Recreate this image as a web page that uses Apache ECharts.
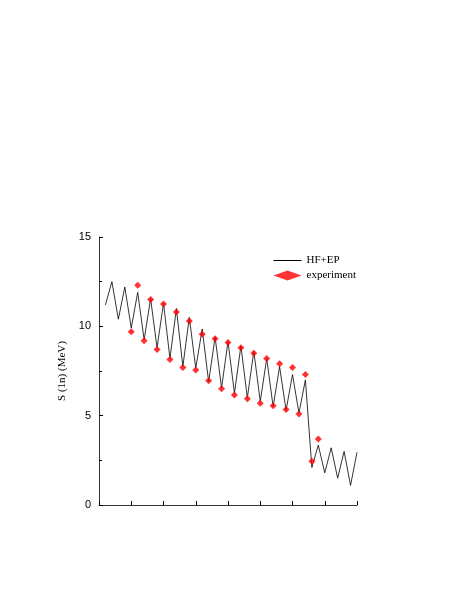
<!DOCTYPE html><html><head><meta charset="utf-8"><script src="https://cdn.jsdelivr.net/npm/echarts@6/dist/echarts.min.js"></script></head><body style="margin:0"><div id="c" style="width:457px;height:591px"></div><script>
const theoryX=[1,2,3,4,5,6,7,8,9,10,11,12,13,14,15,16,17,18,19,20,21,22,23,24,25,26,27,28,29,30,31,32,33,34,35,36,37,38,39,40];
const theoryY=[11.2,12.5,10.4,12.2,9.9,11.9,9.25,11.55,8.8,11.3,8.2,11.0,7.75,10.5,7.65,9.85,6.9,9.4,6.55,9.15,6.25,8.9,6.0,8.6,5.8,8.2,5.5,7.75,5.3,7.3,5.15,7.0,2.1,3.35,1.8,3.2,1.5,3.0,1.1,2.95];
const expX=[5,6,7,8,9,10,11,12,13,14,15,16,17,18,19,20,21,22,23,24,25,26,27,28,29,30,31,32,33,34];
const expY=[9.7,12.3,9.2,11.5,8.7,11.25,8.15,10.8,7.7,10.3,7.55,9.55,6.95,9.3,6.5,9.1,6.15,8.8,5.95,8.5,5.7,8.2,5.55,7.9,5.35,7.7,5.1,7.3,2.45,3.7];
const yTicks=[0,5,10,15];
const font='Liberation Serif';
const ch=echarts.init(document.getElementById('c'));
ch.setOption({
 animation:false,
 grid:{left:99,right:100,top:237,bottom:86},
 legend:{top:250,right:96,orient:'vertical',itemGap:4,itemWidth:28,itemHeight:10,textStyle:{fontFamily:font,fontSize:11,color:'#000'},
  data:[{name:'HF+EP',icon:'path://M0,5L28,5L28,6L0,6Z'},{name:'experiment'}]},
 xAxis:{type:'value',min:0,max:40,interval:5,axisLabel:{show:false},splitLine:{show:false},
  axisLine:{lineStyle:{color:'#000',width:0.8}},axisTick:{inside:true,length:4,lineStyle:{color:'#000'}}},
 yAxis:{type:'value',min:0,max:15,interval:5,name:'S (1n) (MeV)',nameLocation:'middle',nameGap:22,
  nameTextStyle:{fontFamily:font,fontSize:11,color:'#000'},splitLine:{show:false},
  axisLabel:{fontFamily:'Liberation Sans',fontSize:11,color:'#000',formatter:v=>yTicks.includes(v)?v:''},
  axisLine:{lineStyle:{color:'#000',width:0.8}},axisTick:{inside:true,length:4,lineStyle:{color:'#000'}},
  minorTick:{show:true,splitNumber:2,length:3,lineStyle:{color:'#000'}}},
 series:[
  {name:'HF+EP',type:'line',data:theoryX.map((x,i)=>[x,theoryY[i]]),showSymbol:false,symbol:'none',lineStyle:{color:'#000',width:0.8},itemStyle:{color:'#000'}},
  {name:'experiment',type:'scatter',data:expX.map((x,i)=>[x,expY[i]]),symbol:'diamond',symbolSize:7,itemStyle:{color:'#f00'},z:3}
 ]
});
</script></body></html>
